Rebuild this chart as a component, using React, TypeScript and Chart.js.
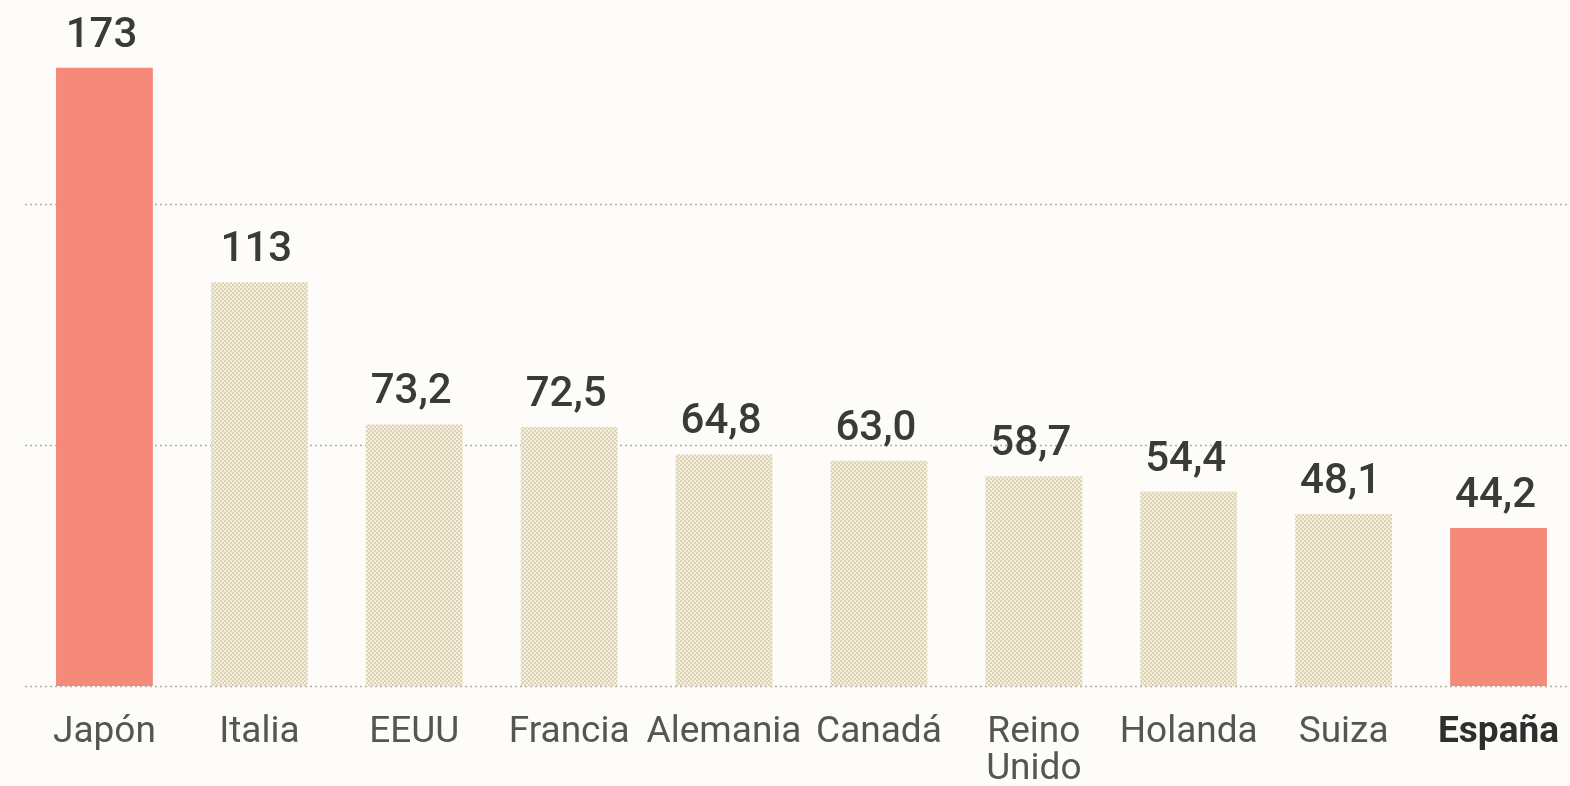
import React, { useEffect, useRef } from "react";
import { Chart, registerables } from "chart.js";

Chart.register(...registerables);

const categories: (string | string[])[] = [
  "Japón", "Italia", "EEUU", "Francia", "Alemania", "Canadá", ["Reino", "Unido"], "Holanda", "Suiza", "España",
];
const values: number[] = [173, 113, 73.2, 72.5, 64.8, 63.0, 58.7, 54.4, 48.1, 44.2];
const valueLabels: string[] = ["173", "113", "73,2", "72,5", "64,8", "63,0", "58,7", "54,4", "48,1", "44,2"];
const highlighted: boolean[] = [true, false, false, false, false, false, false, false, false, true];
const gridValues: number[] = [0, 67.5, 135];

const FONT = "Roboto, 'Liberation Sans', sans-serif";

function makePattern(): CanvasPattern | string {
  const c = document.createElement("canvas");
  c.width = 4;
  c.height = 4;
  const g = c.getContext("2d");
  if (!g) return "#ece3cc";
  g.fillStyle = "#f4eedb";
  g.fillRect(0, 0, 4, 4);
  g.fillStyle = "#ddd3b8";
  g.fillRect(0, 0, 2, 2);
  g.fillRect(2, 2, 2, 2);
  return g.createPattern(c, "repeat") || "#ece3cc";
}

const dottedGridPlugin = {
  id: "dottedGrid",
  beforeDatasetsDraw(chart: any) {
    const ctx = chart.ctx;
    const y = chart.scales.y;
    const area = chart.chartArea;
    ctx.save();
    ctx.strokeStyle = "#b0aea5";
    ctx.lineWidth = 1.5;
    ctx.setLineDash([2, 3]);
    gridValues.forEach((v) => {
      const py = Math.round(y.getPixelForValue(v)) + 0.5;
      ctx.beginPath();
      ctx.moveTo(area.left - 2, py);
      ctx.lineTo(chart.width, py);
      ctx.stroke();
    });
    ctx.restore();
  },
};

const valueLabelPlugin = {
  id: "valueLabels",
  afterDatasetsDraw(chart: any) {
    const ctx = chart.ctx;
    const meta = chart.getDatasetMeta(0);
    ctx.save();
    ctx.font = `500 42px ${FONT}`;
    ctx.fillStyle = "#3a3a38";
    ctx.textAlign = "center";
    ctx.textBaseline = "alphabetic";
    meta.data.forEach((bar: any, i: number) => {
      ctx.fillText(valueLabels[i], bar.x - 3, bar.y - 21);
    });
    ctx.restore();
  },
};

export default function App() {
  const ref = useRef<HTMLCanvasElement | null>(null);

  useEffect(() => {
    document.body.style.margin = "0";
    document.body.style.background = "#fdfcf8";
    if (!ref.current) return;
    const pattern = makePattern();
    const chart = new Chart(ref.current, {
      type: "bar",
      data: {
        labels: categories,
        datasets: [
          {
            data: values,
            backgroundColor: values.map((_, i) => (highlighted[i] ? "#f5897a" : pattern)) as any,
            borderWidth: 0,
            categoryPercentage: 1,
            barPercentage: 0.625,
          },
        ],
      },
      options: {
        animation: false,
        responsive: false,
        maintainAspectRatio: false,
        layout: { padding: { left: 27, right: 0, top: 7, bottom: 0 } },
        plugins: { legend: { display: false }, tooltip: { enabled: false } },
        scales: {
          x: {
            grid: { display: false },
            border: { display: false },
            ticks: {
              padding: 20,
              maxRotation: 0,
              autoSkip: false,
              color: (c: any) => (c.index === 9 ? "#2e2e2e" : "#555555"),
              font: (c: any) => ({
                family: FONT,
                size: 37,
                weight: c.index === 9 ? "bold" : "normal",
                lineHeight: 1.0,
              }),
            },
            afterFit: (scale: any) => {
              scale.height = 100;
            },
          },
          y: {
            min: 0,
            max: 190,
            border: { display: false },
            grid: { display: false },
            ticks: { display: false },
            afterFit: (scale: any) => {
              scale.width = 0;
            },
          },
        },
      },
      plugins: [dottedGridPlugin, valueLabelPlugin],
    } as any);
    return () => chart.destroy();
  }, []);

  return (
    <div style={{ width: 1570, height: 786, overflow: "hidden", background: "#fdfcf8" }}>
      <canvas ref={ref} width={1579} height={786} style={{ display: "block" }} />
    </div>
  );
}
